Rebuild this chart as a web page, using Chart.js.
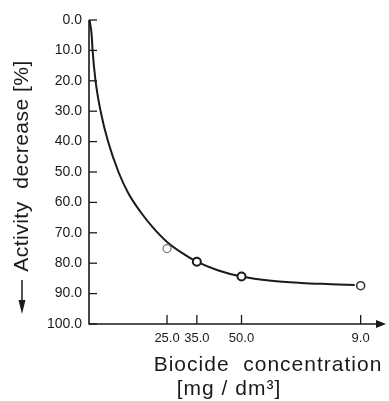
<!DOCTYPE html>
<html>
<head>
<meta charset="utf-8">
<script src="https://cdn.jsdelivr.net/npm/chart.js@4/dist/chart.umd.min.js"></script>
<style>
  html, body { margin: 0; padding: 0; background: #fff; }
  #wrap { width: 389px; height: 401px; }
</style>
</head>
<body>
<div id="wrap"><canvas id="myChart" width="389" height="401"></canvas></div>
<script>
// measured points
const concentration = [25, 35, 50, 90];
const decrease = [75.2, 79.5, 84.4, 87.4];
// fitted curve
const curveX = [-1, -0.3, 0, 1, 2.7, 5.2, 8.7, 12, 16, 20.3, 25, 30, 35, 42, 50, 60, 70, 80, 88];
const curveY = [0, 5, 10, 20, 30, 40, 50, 57, 63, 68.3, 73, 76.6, 79.5, 82.3, 84.4, 85.8, 86.5, 86.9, 87.2];
// axis ticks
const xTicks = [25, 35, 50, 90];
const xTickLabels = ['25.0', '35.0', '50.0', '9.0'];
const yTicks = [0, 10, 20, 30, 40, 50, 60, 70, 80, 90, 100];

const ink = '#1a1a1a';
const fontName = "'Liberation Sans', Arial, sans-serif";

var axesPlugin = {
  id: 'axesPlugin',
  afterDraw: function(chart) {
    var ctx = chart.ctx;
    var xs = chart.scales.x, ys = chart.scales.y;
    var a = chart.chartArea;
    ctx.save();
    ctx.strokeStyle = ink;
    ctx.fillStyle = ink;
    ctx.lineWidth = 1.6;
    // axes
    ctx.beginPath();
    ctx.moveTo(a.left, a.top);
    ctx.lineTo(a.left, a.bottom);
    ctx.lineTo(a.right - 4, a.bottom);
    ctx.stroke();
    // arrow at end of x axis
    ctx.beginPath();
    ctx.moveTo(a.right + 3, a.bottom);
    ctx.lineTo(a.right - 7, a.bottom - 4);
    ctx.lineTo(a.right - 7, a.bottom + 4);
    ctx.closePath();
    ctx.fill();
    // y ticks, pointing in
    ctx.lineWidth = 1.3;
    yTicks.forEach(function(v) {
      var py = ys.getPixelForValue(v);
      ctx.beginPath();
      ctx.moveTo(a.left, py);
      ctx.lineTo(a.left + 8, py);
      ctx.stroke();
    });
    // x ticks, pointing up
    xTicks.forEach(function(v) {
      var px = xs.getPixelForValue(v);
      ctx.beginPath();
      ctx.moveTo(px, a.bottom);
      ctx.lineTo(px, a.bottom - 9);
      ctx.stroke();
    });
    // x title
    ctx.font = '21px ' + fontName;
    ctx.letterSpacing = '1px';
    ctx.textAlign = 'center';
    ctx.textBaseline = 'alphabetic';
    ctx.fillText('Biocide  concentration', 268, 371);
    ctx.fillText('[mg / dm\u00b3]', 229, 395);
    // y title, rotated
    ctx.save();
    ctx.letterSpacing = '0.5px';
    ctx.translate(22, 166);
    ctx.rotate(-Math.PI / 2);
    ctx.textBaseline = 'middle';
    ctx.fillText('Activity  decrease [%]', 0, 0);
    ctx.restore();
    // arrow pointing down
    ctx.lineWidth = 1.5;
    ctx.beginPath();
    ctx.moveTo(22, 280);
    ctx.lineTo(22, 304);
    ctx.stroke();
    ctx.beginPath();
    ctx.moveTo(22, 314);
    ctx.lineTo(18.5, 300);
    ctx.lineTo(25.5, 300);
    ctx.closePath();
    ctx.fill();
    ctx.restore();
  }
};

var curveData = curveX.map(function(x, i) { return { x: x, y: curveY[i] }; });
var pointData = concentration.map(function(x, i) { return { x: x, y: decrease[i] }; });

var ctx = document.getElementById('myChart').getContext('2d');
var myChart = new Chart(ctx, {
  type: 'scatter',
  data: {
    datasets: [{
      label: 'curve',
      data: curveData,
      showLine: true,
      borderColor: ink,
      borderWidth: 2,
      pointRadius: 0,
      cubicInterpolationMode: 'monotone',
      fill: false,
      order: 2
    }, {
      label: 'measured',
      data: pointData,
      showLine: false,
      pointRadius: 4,
      pointBorderWidth: [1.2, 2, 2, 1.6],
      pointBorderColor: ['#777', ink, ink, '#333'],
      pointBackgroundColor: '#fff',
      order: 1
    }]
  },
  options: {
    responsive: false,
    animation: false,
    devicePixelRatio: 1,
    layout: { padding: { top: 20, right: 4, left: 0, bottom: 0 } },
    plugins: {
      legend: { display: false },
      title: { display: false },
      tooltip: { enabled: false }
    },
    scales: {
      x: {
        type: 'linear',
        min: -1.2,
        max: 97.5,
        grid: { display: false, drawTicks: false },
        border: { display: false },
        afterBuildTicks: function(scale) {
          scale.ticks = xTicks.map(function(v) { return { value: v }; });
        },
        afterFit: function(scale) { scale.height = 77; },
        ticks: {
          padding: 7,
          color: ink,
          font: { family: fontName, size: 13 },
          maxRotation: 0,
          callback: function(v) {
            var i = xTicks.indexOf(v);
            return i >= 0 ? xTickLabels[i] : '';
          }
        }
      },
      y: {
        type: 'linear',
        min: 0,
        max: 100,
        reverse: true,
        grid: { display: false, drawTicks: false },
        border: { display: false },
        afterBuildTicks: function(scale) {
          scale.ticks = yTicks.map(function(v) { return { value: v }; });
        },
        afterFit: function(scale) { scale.width = 89; },
        ticks: {
          padding: 7,
          color: ink,
          font: { family: fontName, size: 14 },
          callback: function(v) { return v.toFixed(1); }
        }
      }
    }
  },
  plugins: [axesPlugin]
});
</script>
</body>
</html>
